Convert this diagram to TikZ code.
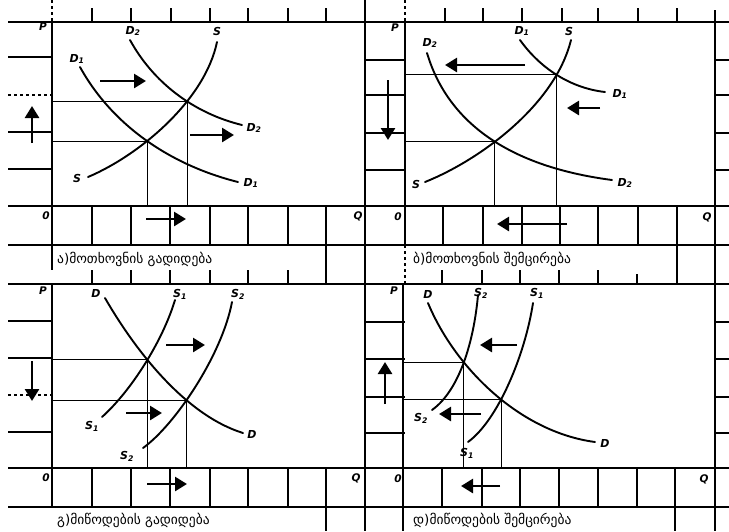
\documentclass[tikz,border=0pt]{standalone}
\usepackage{fontspec}
\usepackage{tikz}
\usetikzlibrary{arrows.meta, intersections}
\newfontfamily\geofont{DejaVu Sans}
\newfontfamily\lblfont{DejaVu Sans}
\tikzset{
  framerule/.style={line width=1.7pt},
  cellrule/.style={line width=1.2pt},
  tickrule/.style={line width=1.2pt},
  guiderule/.style={line width=0.8pt},
  curveline/.style={line width=1.9pt, line cap=round},
  shiftarrow/.style={line width=2.6pt, -{Triangle[length=12pt, width=14pt]}},
  curvelabel/.style={font=\lblfont\bfseries\itshape\fontsize{11}{11}\selectfont, inner sep=0pt},
  axislabel/.style={font=\lblfont\bfseries\itshape\fontsize{10.5}{10.5}\selectfont, inner sep=0pt},
  captiontext/.style={font=\geofont\fontsize{13.5}{13.5}\selectfont, anchor=west, inner sep=0pt}
}

\begin{document}
\begin{tikzpicture}[x=1pt, y=-1pt]
\useasboundingbox (0,0) rectangle (729,531);
\fill[white] (0,0) rectangle (729,531);

% Ruled sheet
\foreach \y in {22,206,245,284,468,507} \draw[framerule] (8,\y) -- (729,\y);
\draw[framerule] (52,22) -- (52,245);
\draw[cellrule] (52,245) -- (52,270);
\draw[framerule] (52,284) -- (52,507);
\draw[tickrule, dashed] (52,0) -- (52,22);
\draw[line width=2.2pt] (365,0) -- (365,531);
\draw[framerule] (405,22) -- (405,245);
\draw[cellrule, dashed] (405,245) -- (405,284);
\draw[tickrule, dashed] (405,0) -- (405,22);
\draw[framerule] (403,285) -- (403,531);
\draw[framerule] (715,10) -- (715,531);

% Quantity strips
\foreach \x in {92,131,170,210,248,288,326} {
  \draw[cellrule] (\x,206) -- (\x,245);
  \draw[cellrule] (\x,468) -- (\x,507);
}
\draw[cellrule] (326,245) -- (326,284);
\draw[cellrule] (326,507) -- (326,531);
\foreach \x in {443,483,522,560,598,638,677} \draw[cellrule] (\x,206) -- (\x,245);
\draw[cellrule] (677,245) -- (677,284);
\foreach \x in {442,482,520,559,598,637,675} \draw[cellrule] (\x,468) -- (\x,507);
\draw[cellrule] (675,507) -- (675,531);

% Ticks
\foreach \x in {92,131,171,210,248,288,326,445,483,522,562,598,638,677} \draw[tickrule] (\x,8) -- (\x,22);
\foreach \x in {92,131,170,210,248,288,442,482,520,559,598} \draw[tickrule] (\x,270) -- (\x,284);
\draw[tickrule] (637,274) -- (637,284);
\foreach \y in {57,132,169,321,358,432} \draw[tickrule] (8,\y) -- (52,\y);
\foreach \y in {95,395} \draw[tickrule, dashed] (8,\y) -- (52,\y);
\foreach \y in {60,95,133,170,322,359,397,433} {
  \draw[tickrule] (365,\y) -- (405,\y);
  \draw[tickrule] (715,\y) -- (729,\y);
}

% Panel a: demand rises
\coordinate (a-o) at (52,206);
\draw[curveline, name path=a-d1] (80,67) .. controls (112,125) and (170,165) .. (238,182);
\draw[curveline, name path=a-d2] (130,40) .. controls (153,82) and (193,113) .. (242,125);
\draw[curveline, name path=a-s] (88,177) .. controls (140,155) and (205,100) .. (217,42);
\path[name intersections={of=a-d1 and a-s, by={a-e1}}];
\path[name intersections={of=a-d2 and a-s, by={a-e2}}];
\draw[guiderule] (a-o |- a-e1) -- (a-e1) -- (a-e1 |- a-o);
\draw[guiderule] (a-o |- a-e2) -- (a-e2) -- (a-e2 |- a-o);
\draw[shiftarrow] (100,81) coordinate (a-from1) -- (146,81) coordinate (a-to1);
\draw[shiftarrow] (190,135) coordinate (a-from2) -- (234,135) coordinate (a-to2);
\draw[shiftarrow] (32,143) coordinate (a-from3) -- (32,106) coordinate (a-to3);
\draw[shiftarrow] (146,219) coordinate (a-from4) -- (186,219) coordinate (a-to4);
\node[axislabel] (a-p) at (43,27) {P};
\node[axislabel] (a-zero) at (46,216) {0};
\node[axislabel] (a-q) at (358,216) {Q};
\node[curvelabel] (a-d1top) at (77,59) {D\textsubscript{1}};
\node[curvelabel] (a-d2top) at (133,31) {D\textsubscript{2}};
\node[curvelabel] (a-stop) at (217,31) {S};
\node[curvelabel] (a-d2end) at (254,128) {D\textsubscript{2}};
\node[curvelabel] (a-d1end) at (251,183) {D\textsubscript{1}};
\node[curvelabel] (a-sbot) at (77,178) {S};
\node[captiontext] (a-cap) at (57,259) {ა)მოთხოვნის გადიდება};

% Panel b: demand falls
\coordinate (b-o) at (405,206);
\draw[curveline, name path=b-d1] (520,40) .. controls (540,68) and (570,88) .. (605,92);
\draw[curveline, name path=b-d2] (427,53) .. controls (450,130) and (520,168) .. (612,180);
\draw[curveline, name path=b-s] (425,182) .. controls (480,160) and (555,105) .. (571,40);
\path[name intersections={of=b-d1 and b-s, by={b-e1}}];
\path[name intersections={of=b-d2 and b-s, by={b-e2}}];
\draw[guiderule] (b-o |- b-e1) -- (b-e1) -- (b-e1 |- b-o);
\draw[guiderule] (b-o |- b-e2) -- (b-e2) -- (b-e2 |- b-o);
\draw[shiftarrow] (525,65) coordinate (b-from1) -- (445,65) coordinate (b-to1);
\draw[shiftarrow] (600,108) coordinate (b-from2) -- (567,108) coordinate (b-to2);
\draw[shiftarrow] (388,80) coordinate (b-from3) -- (388,140) coordinate (b-to3);
\draw[shiftarrow] (567,224) coordinate (b-from4) -- (497,224) coordinate (b-to4);
\node[axislabel] (b-p) at (395,28) {P};
\node[axislabel] (b-zero) at (398,217) {0};
\node[axislabel] (b-q) at (707,217) {Q};
\node[curvelabel] (b-d1top) at (522,31) {D\textsubscript{1}};
\node[curvelabel] (b-stop) at (569,31) {S};
\node[curvelabel] (b-d2top) at (430,43) {D\textsubscript{2}};
\node[curvelabel] (b-d1end) at (620,94) {D\textsubscript{1}};
\node[curvelabel] (b-d2end) at (625,183) {D\textsubscript{2}};
\node[curvelabel] (b-sbot) at (416,184) {S};
\node[captiontext] (b-cap) at (413,259) {ბ)მოთხოვნის შემცირება};

% Panel c: supply rises
\coordinate (c-o) at (52,468);
\draw[curveline, name path=c-d] (105,298) .. controls (135,350) and (185,415) .. (243,433);
\draw[curveline, name path=c-s1] (102,417) .. controls (132,390) and (163,340) .. (175,300);
\draw[curveline, name path=c-s2] (143,448) .. controls (175,425) and (222,355) .. (232,302);
\path[name intersections={of=c-d and c-s1, by={c-e1}}];
\path[name intersections={of=c-d and c-s2, by={c-e2}}];
\draw[guiderule] (c-o |- c-e1) -- (c-e1) -- (c-e1 |- c-o);
\draw[guiderule] (c-o |- c-e2) -- (c-e2) -- (c-e2 |- c-o);
\draw[shiftarrow] (166,345) coordinate (c-from1) -- (205,345) coordinate (c-to1);
\draw[shiftarrow] (126,413) coordinate (c-from2) -- (162,413) coordinate (c-to2);
\draw[shiftarrow] (32,361) coordinate (c-from3) -- (32,401) coordinate (c-to3);
\draw[shiftarrow] (147,484) coordinate (c-from4) -- (187,484) coordinate (c-to4);
\node[axislabel] (c-p) at (43,291) {P};
\node[axislabel] (c-zero) at (46,478) {0};
\node[axislabel] (c-q) at (356,478) {Q};
\node[curvelabel] (c-dtop) at (96,293) {D};
\node[curvelabel] (c-s1top) at (180,294) {S\textsubscript{1}};
\node[curvelabel] (c-s2top) at (238,294) {S\textsubscript{2}};
\node[curvelabel] (c-dend) at (252,434) {D};
\node[curvelabel] (c-s1bot) at (92,426) {S\textsubscript{1}};
\node[curvelabel] (c-s2bot) at (127,456) {S\textsubscript{2}};
\node[captiontext] (c-cap) at (57,520) {გ)მიწოდების გადიდება};

% Panel d: supply falls
\coordinate (d-o) at (403,469);
\draw[curveline, name path=d-d] (428,303) .. controls (455,368) and (520,432) .. (595,442);
\draw[curveline, name path=d-s2] (432,410) .. controls (460,390) and (474,340) .. (478,295);
\draw[curveline, name path=d-s1] (468,442) .. controls (498,420) and (525,355) .. (533,303);
\path[name intersections={of=d-d and d-s2, by={d-e1}}];
\path[name intersections={of=d-d and d-s1, by={d-e2}}];
\draw[guiderule] (d-o |- d-e1) -- (d-e1) -- (d-e1 |- d-o);
\draw[guiderule] (d-o |- d-e2) -- (d-e2) -- (d-e2 |- d-o);
\draw[shiftarrow] (517,345) coordinate (d-from1) -- (480,345) coordinate (d-to1);
\draw[shiftarrow] (481,414) coordinate (d-from2) -- (439,414) coordinate (d-to2);
\draw[shiftarrow] (385,404) coordinate (d-from3) -- (385,362) coordinate (d-to3);
\draw[shiftarrow] (500,486) coordinate (d-from4) -- (461,486) coordinate (d-to4);
\node[axislabel] (d-p) at (394,291) {P};
\node[axislabel] (d-zero) at (398,479) {0};
\node[axislabel] (d-q) at (704,479) {Q};
\node[curvelabel] (d-dtop) at (428,294) {D};
\node[curvelabel] (d-s2top) at (481,293) {S\textsubscript{2}};
\node[curvelabel] (d-s1top) at (537,293) {S\textsubscript{1}};
\node[curvelabel] (d-dend) at (605,443) {D};
\node[curvelabel] (d-s2bot) at (421,418) {S\textsubscript{2}};
\node[curvelabel] (d-s1bot) at (467,453) {S\textsubscript{1}};
\node[captiontext] (d-cap) at (413,520) {დ)მიწოდების შემცირება};

\end{tikzpicture}
\end{document}
